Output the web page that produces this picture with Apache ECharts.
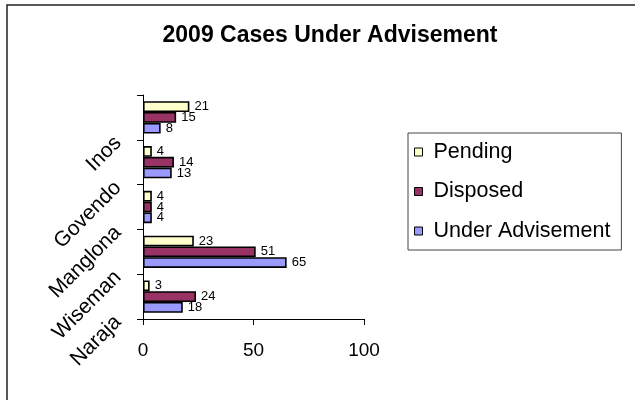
<!DOCTYPE html>
<html>
<head>
<meta charset="utf-8">
<script src="https://cdn.jsdelivr.net/npm/echarts@6/dist/echarts.min.js"></script>
<style>
html,body{margin:0;padding:0;background:#fff;}
#chart{width:635px;height:400px;}
</style>
</head>
<body>
<div id="chart"></div>
<script>
const titleText = '2009 Cases Under Advisement';
const categories = ['Naraja', 'Wiseman', 'Manglona', 'Govendo', 'Inos'];
const seriesNames = ['Pending', 'Disposed', 'Under Advisement'];
const pending = [3, 23, 4, 4, 21];
const disposed = [24, 51, 4, 14, 15];
const underAdvisement = [18, 65, 4, 13, 8];
const xTicks = [0, 50, 100];
const colors = ['#FFFFCC', '#993366', '#9999FF'];

const FONT = '"Liberation Sans", Arial, sans-serif';
const chart = echarts.init(document.getElementById('chart'), null, {renderer: 'canvas'});

const valuesList = [pending, disposed, underAdvisement];
const series = seriesNames.map((name, i) => ({
  name: name,
  type: 'bar',
  data: valuesList[i],
  barGap: '0%',
  barCategoryGap: '28%',
  itemStyle: {color: colors[i], borderColor: '#000', borderWidth: 1.6},
  label: {show: true, position: 'right', distance: 5, color: '#000', fontSize: 13, fontFamily: FONT},
  emphasis: {disabled: true},
  animation: false
}));

chart.setOption({
  animation: false,
  backgroundColor: '#fff',
  textStyle: {fontFamily: FONT},
  title: {
    text: titleText,
    left: 325, textAlign: 'center',
    top: 19,
    textStyle: {fontSize: 23, fontWeight: 'bold', color: '#000', fontFamily: FONT}
  },
  legend: {
    data: seriesNames,
    orient: 'vertical',
    left: 408, top: 133,
    padding: [8, 11, 8, 6],
    itemWidth: 20, itemHeight: 8, itemGap: 17.5,
    icon: 'path://M0,0H10V10H0Z',
    borderColor: '#444', borderWidth: 1,
    textStyle: {fontSize: 21.5, lineHeight: 21, color: '#000', fontFamily: FONT},
    itemStyle: {borderColor: '#000', borderWidth: 1}
  },
  grid: {left: 143, right: 271, top: 95, bottom: 81, containLabel: false},
  xAxis: {
    type: 'value', min: xTicks[0], max: xTicks[xTicks.length - 1], interval: xTicks[1] - xTicks[0],
    splitLine: {show: false},
    axisLine: {show: true, lineStyle: {color: '#000', width: 1}},
    axisTick: {show: true, length: 6, lineStyle: {color: '#000'}},
    axisLabel: {fontSize: 19, color: '#000', margin: 22, fontFamily: FONT}
  },
  yAxis: [{
    type: 'category', data: categories, position: 'left',
    axisLine: {show: true, lineStyle: {color: '#000', width: 1}},
    axisTick: {show: true, length: 6, lineStyle: {color: '#000'}},
    axisLabel: {show: false}
  }, {
    type: 'category', data: categories.concat(['']), position: 'left', boundaryGap: false,
    axisLine: {show: false}, axisTick: {show: false}, splitLine: {show: false},
    axisLabel: {rotate: 45, fontSize: 21, color: '#000', margin: 25, fontFamily: FONT, interval: 0}
  }],
  graphic: [{
    type: 'rect', silent: true,
    shape: {x: 7, y: 5, width: 700, height: 500},
    style: {fill: 'none', stroke: '#222', lineWidth: 1.5}
  }],
  series: series
});
</script>
</body>
</html>
